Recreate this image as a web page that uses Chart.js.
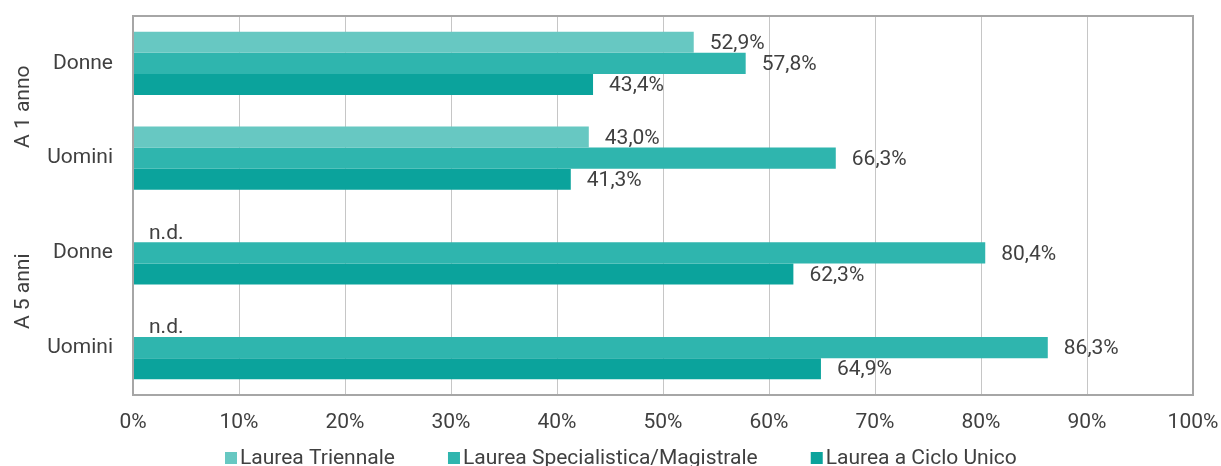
<!DOCTYPE html>
<html>
<head>
<meta charset="utf-8">
<script src="https://cdn.jsdelivr.net/npm/chart.js@4/dist/chart.umd.min.js"></script>
<style>
  html, body { margin: 0; padding: 0; background: #fff; }
  #wrap { width: 1221px; height: 466px; position: relative; }
</style>
</head>
<body>
<div id="wrap"><canvas id="c" width="1221" height="466"></canvas></div>
<script>
const categories = ['Donne', 'Uomini', 'Donne', 'Uomini'];
const groupLabels = ['A 1 anno', 'A 5 anni'];
const groupOfCategory = [0, 0, 1, 1];
const seriesNames = ['Laurea Triennale', 'Laurea Specialistica/Magistrale', 'Laurea a Ciclo Unico'];
const triennale = [52.9, 43.0, null, null];
const specialistica = [57.8, 66.3, 80.4, 86.3];
const cicloUnico = [43.4, 41.3, 62.3, 64.9];
const xTickValues = [0, 10, 20, 30, 40, 50, 60, 70, 80, 90, 100];
const missingLabel = 'n.d.';

const colors = ['#67c8c2', '#2fb5ae', '#0ba39c'];
const FONT = 'Roboto';
const FS = 21;
const TEXT = '#404040';

const labelsPlugin = {
  id: 'valueLabels',
  afterDatasetsDraw(chart) {
    const ctx = chart.ctx;
    const x = chart.scales.x;
    ctx.save();
    ctx.font = FS + 'px ' + FONT;
    ctx.fillStyle = TEXT;
    ctx.textAlign = 'left';
    ctx.textBaseline = 'middle';
    chart.data.datasets.forEach((ds, di) => {
      const meta = chart.getDatasetMeta(di);
      meta.data.forEach((bar, i) => {
        const v = ds.data[i];
        let txt, px;
        if (v === null || v === undefined) {
          txt = missingLabel;
          px = x.getPixelForValue(0) + 16;
        } else {
          txt = v.toFixed(1).replace('.', ',') + '%';
          px = x.getPixelForValue(v) + 16;
        }
        ctx.fillText(txt, px, bar.y + 1.5);
      });
    });
    ctx.restore();
  }
};

const framePlugin = {
  id: 'frame',
  afterDatasetsDraw(chart) {
    const a = chart.chartArea;
    const ctx = chart.ctx;
    ctx.save();
    ctx.strokeStyle = '#a6a6a6';
    ctx.lineWidth = 2;
    ctx.strokeRect(a.left, a.top, a.right - a.left, a.bottom - a.top);
    ctx.restore();
  }
};

const groupOffsets = [-4, -9];
const groupPlugin = {
  id: 'groupLabels',
  afterDraw(chart) {
    const ctx = chart.ctx;
    const y = chart.scales.y;
    ctx.save();
    ctx.font = FS + 'px ' + FONT;
    ctx.fillStyle = TEXT;
    ctx.textAlign = 'center';
    ctx.textBaseline = 'middle';
    groupLabels.forEach((g, gi) => {
      const idx = [];
      groupOfCategory.forEach((v, i) => { if (v === gi) idx.push(i); });
      const mid = (y.getPixelForValue(idx[0]) + y.getPixelForValue(idx[idx.length - 1])) / 2;
      ctx.save();
      ctx.translate(24, mid + groupOffsets[gi]);
      ctx.rotate(-Math.PI / 2);
      ctx.fillText(g, 0, 0);
      ctx.restore();
    });
    ctx.restore();
  }
};

const legendPlugin = {
  id: 'customLegend',
  afterDraw(chart) {
    const ctx = chart.ctx;
    ctx.save();
    ctx.font = FS + 'px ' + FONT;
    ctx.textBaseline = 'middle';
    ctx.textAlign = 'left';
    let x = 225;
    const yc = 458;
    chart.data.datasets.forEach((ds) => {
      ctx.fillStyle = ds.backgroundColor;
      ctx.fillRect(x, yc - 6, 12, 12);
      ctx.fillStyle = TEXT;
      ctx.fillText(ds.label, x + 15, yc + 1);
      x += 15 + ctx.measureText(ds.label).width + 53;
    });
    ctx.restore();
  }
};

new Chart(document.getElementById('c'), {
  type: 'bar',
  data: {
    labels: categories,
    datasets: [
      { label: seriesNames[0], data: triennale, backgroundColor: colors[0] },
      { label: seriesNames[1], data: specialistica, backgroundColor: colors[1] },
      { label: seriesNames[2], data: cicloUnico, backgroundColor: colors[2] }
    ]
  },
  options: {
    indexAxis: 'y',
    responsive: false,
    animation: false,
    devicePixelRatio: 1,
    layout: { padding: { top: 16, right: 28, bottom: 31, left: 0 } },
    datasets: { bar: { categoryPercentage: 0.665, barPercentage: 1.0, borderWidth: 0 } },
    plugins: { legend: { display: false }, tooltip: { enabled: false } },
    scales: {
      x: {
        min: 0, max: 100,
        afterBuildTicks(s) { s.ticks = xTickValues.map(v => ({ value: v })); },
        afterFit(s) { s.height = 40; s.paddingLeft = 0; s.paddingRight = 0; },
        ticks: {
          callback: v => v + '%',
          color: TEXT,
          font: { family: FONT, size: FS },
          padding: 15,
          maxRotation: 0
        },
        grid: { color: '#c6c6c6', lineWidth: 1, drawTicks: false },
        border: { display: false }
      },
      y: {
        afterFit(s) { s.width = 133; s.paddingTop = 0; s.paddingBottom = 0; },
        ticks: {
          color: TEXT,
          font: { family: FONT, size: FS },
          padding: 20
        },
        grid: { display: false, drawTicks: false },
        border: { display: false }
      }
    }
  },
  plugins: [labelsPlugin, framePlugin, groupPlugin, legendPlugin]
});
</script>
</body>
</html>
